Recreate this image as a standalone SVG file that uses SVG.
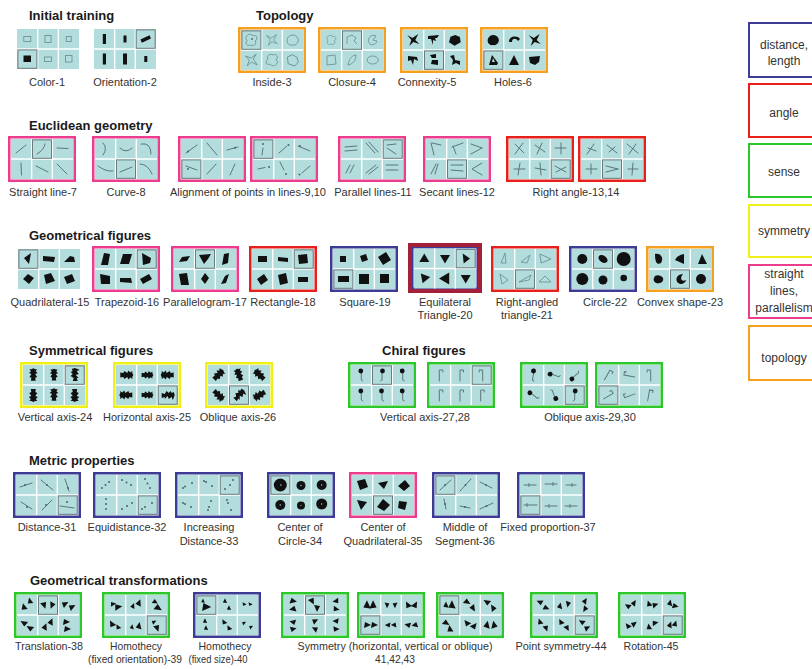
<svg xmlns="http://www.w3.org/2000/svg" width="812" height="669" viewBox="0 0 812 669">
<style>
text{font-family:"Liberation Sans",Arial,Helvetica,sans-serif}
.tt{font-size:13px;font-weight:bold;fill:#1a1a1a}
.lb{font-size:11px;fill:#333;text-anchor:middle}
.lg{font-size:12px;fill:#333;text-anchor:middle}
.fr{fill:#fff;stroke-width:2.5}
.lgb{fill:#fff;stroke-width:2}
.cb{stroke:#3c3c96}.cr{stroke:#e8201c}.cg{stroke:#2ac82a}.cy{stroke:#f0f018}.cp{stroke:#ec3c8e}.co{stroke:#f5a020}
.k{fill:#111}
.o{fill:none;stroke:#6a8e95;stroke-width:.85}
.l{fill:none;stroke:#5a777d;stroke-width:1;stroke-linecap:round}
.d{fill:#4a656b}
</style>
<defs>
<g id="grid"><rect x="3" y="3" width="62" height="40" fill="#b3dcdc"/><path d="M23.67 3V43M44.33 3V43M3 23H65" stroke="#fff" stroke-width="1.4"/></g>
<rect id="h" width="19" height="18.4" fill="none" stroke="#6e7b7d" stroke-width="1"/>
<path id="bA" d="M-5,-3 C-4,-7 1,-6 2,-4 C6,-6 7,-1 4,1 C6,4 2,7 -1,5 C-4,7 -7,3 -4,0 C-6,-1 -6,-2 -5,-3Z"/>
<path id="bB" d="M-6,-5 L-1,-2 L5,-6 L2,0 L6,4 L0,2 L-4,6 L-2,0 Z"/>
<path id="bC" d="M-5,-2 C-3,-6 3,-6 5,-2 C7,2 3,6 0,5 C-4,6 -7,2 -5,-2Z"/>
<path id="bD" d="M-6,-1 L-2,-5 L3,-4 L6,0 L4,5 L-3,5 Z"/>
<path id="tri" d="M0,-5 L5,3.5 L-5,3.5Z"/>
<path id="t" d="M0,-4 L3,3 L-3,2Z"/>
<path id="sv" d="M0,-7 L2,-6 L4,-6 L2.5,-4 L4.5,-2 L2,-1 L4,2 L2,3 L2.5,6 L-2.5,6 L-2,3 L-4,2 L-2,-1 L-4.5,-2 L-2.5,-4 L-4,-6 L-2,-6Z"/>
<path id="sn" d="M0,-7 L3,-6 L5,-5 L2,-4 L4,-1 L1,0 L4,3 L2,3 L3,6 L-2,6 L-1,3 L-4,1 L-2,-1 L-4,-3 L-2,-4 L-3,-6Z"/>
<g id="fl"><path d="M0,-3 V5 L1.5,6" class="l"/><circle cx="-0.5" cy="-4" r="2.4" class="k"/></g>
<path id="gm" d="M-1,6 V-5 H2.5 V-3" class="l"/>
</defs>

<rect width="812" height="669" fill="#fff"/>

<!-- titles -->
<text class="tt" x="29" y="20">Initial training</text>
<text class="tt" x="256" y="20">Topology</text>
<text class="tt" x="29" y="130">Euclidean geometry</text>
<text class="tt" x="29" y="240">Geometrical figures</text>
<text class="tt" x="29" y="355">Symmetrical figures</text>
<text class="tt" x="382" y="355">Chiral figures</text>
<text class="tt" x="29" y="465">Metric properties</text>
<text class="tt" x="30" y="585">Geometrical transformations</text>

<!-- Row 1 -->
<g id="n-color-1">
<g transform="translate(14,26)">
<use href="#grid"/>
<rect class="o" x="9.8" y="10.5" width="7" height="5"/>
<rect class="o" x="31" y="9.5" width="6" height="7"/>
<rect class="o" x="52.2" y="10.5" width="5" height="5"/>
<use href="#h" x="3.9" y="23.9"/>
<rect class="k" x="9.5" y="29.5" width="7.5" height="6.5"/>
<rect class="o" x="30.5" y="31" width="7" height="4.5"/>
<rect class="o" x="51.5" y="29.5" width="6.5" height="6.5"/>
</g>
<text class="lb" x="47" y="86">Color-1</text>
</g>

<g id="n-orientation-2">
<g transform="translate(91,26)">
<use href="#grid"/>
<rect class="k" x="11.8" y="8" width="3.2" height="10"/>
<rect class="k" x="32.5" y="9.5" width="3" height="7"/>
<use href="#h" x="45.2" y="3.9"/>
<rect class="k" x="-5" y="-1.7" width="10" height="3.4" transform="translate(54.7,13) rotate(-25)"/>
<rect class="k" x="11.8" y="27.5" width="3.2" height="11"/>
<rect class="k" x="32" y="27.5" width="4" height="11"/>
<rect class="k" x="53.3" y="30" width="3" height="6"/>
</g>
<text class="lb" x="125" y="86">Orientation-2</text>
</g>

<g id="n-inside-3">
<g transform="translate(238,27)">
<rect class="fr co" x="1.25" y="1.25" width="65.5" height="43.5"/>
<use href="#grid"/>
<use href="#h" x="3.9" y="3.9"/>
<use href="#bA" class="o" transform="translate(13.3,13)"/>
<circle cx="14" cy="12" r="0.9" class="d"/>
<use href="#bB" class="o" transform="translate(34,13) scale(.9)"/>
<use href="#bC" class="o" transform="translate(54.7,13)"/>
<use href="#bB" class="o" transform="translate(13.3,33) rotate(90)"/>
<use href="#bA" class="o" transform="translate(34,33) rotate(180)"/>
<use href="#bD" class="o" transform="translate(54.7,33) rotate(20)"/>
</g>
<text class="lb" x="272" y="86">Inside-3</text>
</g>

<g id="n-closure-4">
<g transform="translate(318,27)">
<rect class="fr co" x="1.25" y="1.25" width="65.5" height="43.5"/>
<use href="#grid"/>
<use href="#h" x="24.5" y="3.9"/>
<use href="#bA" class="o" transform="translate(13.3,13) scale(.8)"/>
<path class="o" d="M29,17 L29,10 L34,8 L38,11 L36,14 L39,17"/>
<path class="o" d="M58,9 C52,6 49,13 51,16 C53,19 58,18 59,14 L55,13 Z"/>
<path class="o" d="M9,29 L17,28 L18,37 L9,38Z"/>
<path class="o" d="M30,38 C31,31 35,28 38,28 C38,33 35,37 30,38Z"/>
<ellipse class="o" cx="54.7" cy="33" rx="5.5" ry="4"/>
</g>
<text class="lb" x="352" y="86">Closure-4</text>
</g>

<g id="n-connexity-5">
<g transform="translate(400,27)">
<rect class="fr co" x="1.25" y="1.25" width="65.5" height="43.5"/>
<use href="#grid"/>
<use href="#h" x="24.5" y="23.9"/>
<use href="#bB" class="k" transform="translate(13.3,13)"/>
<path class="k" d="M28,9 L39,8 L37,11 L35,11 L36,14 L33,13 L33,18 L31,12 L28,12Z"/>
<use href="#bD" class="k" transform="translate(54.7,13) rotate(-30)"/>
<path class="k" d="M8,29 L17,30 L18,34 L14,32 L13,38 L11,33 L8,34Z"/>
<path class="k" d="M30,28 L36,27 L36,31 L32,31Z M32,33 L38,33 L38,38 L31,37Z"/>
<path class="k" d="M50,29 L54,28 L55,33 L60,34 L60,38 L56,36 L52,38 L53,33Z"/>
</g>
<text class="lb" x="427" y="86">Connexity-5</text>
</g>

<g id="n-holes-6">
<g transform="translate(480,27)">
<rect class="fr co" x="1.25" y="1.25" width="65.5" height="43.5"/>
<use href="#grid"/>
<use href="#h" x="3.9" y="23.9"/>
<use href="#bC" class="k" transform="translate(13.3,13)"/>
<path class="k" d="M29,15 C29,9 37,8 40,12 L38,14 C36,11 32,11 32,15Z"/>
<use href="#bB" class="k" transform="translate(54.7,13)"/>
<path class="k" fill-rule="evenodd" d="M9,38 L12,28 L18,36 L17,38Z M12,35 L13,31 L15,35Z"/>
<path class="k" d="M29,38 L34,28 L39,38Z"/>
<path class="k" d="M49,30 L60,29 L59,35 L55,38 L50,36Z"/>
</g>
<text class="lb" x="513" y="86">Holes-6</text>
</g>

<!-- Row 2 -->
<g id="n-straight-line-7">
<g transform="translate(8,136)">
<rect class="fr cp" x="1.25" y="1.25" width="65.5" height="43.5"/>
<use href="#grid"/>
<use href="#h" x="24.5" y="3.9"/>
<path class="l" d="M8,17 L18,9 M29,18 Q36,14 37,8 M49,12 L60,12.5 M13,27 L13.5,39 M28,30 L40,36 M49,28 L59,38"/>
</g>
<text class="lb" x="43" y="196">Straight line-7</text>
</g>

<g id="n-curve-8">
<g transform="translate(92,136)">
<rect class="fr cp" x="1.25" y="1.25" width="65.5" height="43.5"/>
<use href="#grid"/>
<use href="#h" x="24.5" y="23.9"/>
<path class="l" d="M11,7 Q16,12 11,19 M28,12 Q34,18 40,12 M49,8 Q59,6 59,18 M6,30 Q14,36 21,35 M28,36 L40,31 M48,28 Q56,28 60,38"/>
</g>
<text class="lb" x="126" y="196">Curve-8</text>
</g>

<g id="n-alignment-9-10">
<g transform="translate(178,136)">
<rect class="fr cp" x="1.25" y="1.25" width="65.5" height="43.5"/>
<use href="#grid"/>
<use href="#h" x="3.9" y="23.9"/>
<path class="l" d="M8,17 L19,9 M29,7 L39,19 M49,14 L60,11 M8,30 L19,34 M29,38 L38,28 M52,39 L57,28"/>
<circle class="d" cx="10" cy="15.6" r="1"/><circle class="d" cx="10" cy="33" r="1"/><circle class="d" cx="57" cy="11.8" r="1"/>
</g>
<g transform="translate(250,136)">
<rect class="fr cp" x="1.25" y="1.25" width="65.5" height="43.5"/>
<use href="#grid"/>
<use href="#h" x="3.9" y="3.9"/>
<path class="l" d="M13,12 L12,19 M29,17 L37,10 M48,10 L60,15 M8,33 L15,31.5 M30,26 L34,34 M52,37 L60,30"/>
<circle class="d" cx="13" cy="8" r="1"/><circle class="d" cx="38.5" cy="9" r="1"/><circle class="d" cx="50" cy="10" r="1"/><circle class="d" cx="19" cy="31" r="1"/><circle class="d" cx="36" cy="38" r="1"/><circle class="d" cx="49.5" cy="38.5" r="1"/>
</g>
<text class="lb" x="248" y="196">Alignment of points in lines-9,10</text>
</g>

<g id="n-parallel-11">
<g transform="translate(338,136)">
<rect class="fr cp" x="1.25" y="1.25" width="65.5" height="43.5"/>
<use href="#grid"/>
<use href="#h" x="45.2" y="3.9"/>
<path class="l" d="M7,11 L19,10 M7,15 L19,14 M28,7 L37,17 M31,6 L40,16 M49,9 L58,8 M49,12 L58,18 M8,37 L12,29 M12,37 L16,29 M28,37 L38,29 M31,38 L40,31 M48,29 L60,29 M48,34 L60,34"/>
</g>
<text class="lb" x="373" y="196">Parallel lines-11</text>
</g>

<g id="n-secant-12">
<g transform="translate(423,136)">
<rect class="fr cp" x="1.25" y="1.25" width="65.5" height="43.5"/>
<use href="#grid"/>
<use href="#h" x="24.5" y="23.9"/>
<path class="l" d="M8,7 L11,19 M9,7 L18,9 M29,11 L40,7 M30,10 L33,18 M48,8 L59,12 M48,18 L59,12 M8,38 L13,28 M12,38 L15,28 M28,29 L40,29 M28,34 L40,35 M59,27 L49,33 L59,39"/>
</g>
<text class="lb" x="457" y="196">Secant lines-12</text>
</g>

<g id="n-right-angle-13-14">
<g transform="translate(506,136)">
<rect class="fr cr" x="1.25" y="1.25" width="65.5" height="43.5"/>
<use href="#grid"/>
<use href="#h" x="45.2" y="23.9"/>
<path class="l" d="M9,8 L18,17 M17,7 L9,18 M29,9 L39,16 M36,7 L31,18 M49,12 L60,12 M55,7 L55,18 M8,33 L19,33 M14,27 L12,39 M29,32 L40,34 M34,27 L35,39 M49,30 L60,36 M50,36 L60,31"/>
</g>
<g transform="translate(578,136)">
<rect class="fr cr" x="1.25" y="1.25" width="65.5" height="43.5"/>
<use href="#grid"/>
<use href="#h" x="24.5" y="23.9"/>
<path class="l" d="M9,18 L16,8 M10,12 L18,15 M29,9 L39,17 M31,16 L37,11 M49,8 L60,17 M58,8 L51,18 M8,33 L19,33 M13,28 L13,38 M28,30 L40,33 M28,36 L40,33 M55,27 L54,39 M50,33 L60,33"/>
</g>
<text class="lb" x="576" y="196">Right angle-13,14</text>
</g>

<!-- Row 3 -->
<g id="n-quadrilateral-15">
<g transform="translate(15,246)">
<use href="#grid"/>
<use href="#h" x="3.9" y="3.9"/>
<path class="k" d="M9,12 L16,7 L14,18 Z M28,10 L40,11 L39,16 L28,15 Z M49,16 L55,10 L59,11 L60,16 Z M8,33 L13,28 L19,32 L14,38 Z M29,29 L36,27 L40,35 L31,38 Z M49,31 L57,28 L60,35 L52,38 Z"/>
</g>
<text class="lb" x="50" y="306">Quadrilateral-15</text>
</g>

<g id="n-trapezoid-16">
<g transform="translate(92,246)">
<rect class="fr cp" x="1.25" y="1.25" width="65.5" height="43.5"/>
<use href="#grid"/>
<use href="#h" x="45.2" y="3.9"/>
<path class="k" d="M9,19 L12,7 L18,8 L16,19 Z M28,18 L31,8 L40,8 L37,18 Z M50,7 L59,12 L58,17 L51,19 Z M8,28 L18,30 L18,38 L9,38 Z M28,32 L39,32 L40,37 L28,36 Z M48,33 L57,28 L60,33 L51,38 Z"/>
</g>
<text class="lb" x="127" y="306">Trapezoid-16</text>
</g>

<g id="n-parallelogram-17">
<g transform="translate(171,246)">
<rect class="fr cp" x="1.25" y="1.25" width="65.5" height="43.5"/>
<use href="#grid"/>
<use href="#h" x="24.5" y="3.9"/>
<path class="k" d="M8,16 L11,11 L19,10 L16,15 Z M28,9 L40,8 L37,13 L33,18 Z M51,19 L53,8 L58,7 L57,17 Z M8,28 L16,27 L18,39 L10,39 Z M30,33 L34,27 L38,32 L34,38 Z M50,38 L54,30 L58,28 L55,37 Z"/>
</g>
<text class="lb" x="205" y="306">Parallelogram-17</text>
</g>

<g id="n-rectangle-18">
<g transform="translate(249,246)">
<rect class="fr cr" x="1.25" y="1.25" width="65.5" height="43.5"/>
<use href="#grid"/>
<use href="#h" x="45.2" y="3.9"/>
<path class="k" d="M9,10 L18,10 L18,16 L9,16Z M29,11 L39,12 L39,16 L29,15Z M49,9 L58,8 L59,17 L50,18Z M8,33 L15,28 L19,34 L12,39Z M29,29 L37,27 L39,37 L31,39Z M49,31 L59,31 L59,36 L49,36Z"/>
</g>
<text class="lb" x="283" y="306">Rectangle-18</text>
</g>

<g id="n-square-19">
<g transform="translate(330,246)">
<rect class="fr cb" x="1.25" y="1.25" width="65.5" height="43.5"/>
<use href="#grid"/>
<use href="#h" x="3.9" y="23.9"/>
<path class="k" d="M10,10 H16 V16 H10Z M30,10 L36,8 L38,14 L32,16Z M48,11 L56,6 L61,14 L53,19Z M8,30 H19 V36 H8Z M29,28 H39 V38 H29Z M50,28 H59 V37 H50Z"/>
</g>
<text class="lb" x="365" y="306">Square-19</text>
</g>

<g id="n-equilateral-20">
<g transform="translate(408,243)">
<rect x="2" y="2" width="70" height="46" fill="#fff" stroke="#a3203a" stroke-width="4"/>
<rect x="4.75" y="4.75" width="64.5" height="40.5" fill="none" stroke="#3a3a9a" stroke-width="1.5"/>
<g transform="translate(3,2.5)">
<use href="#grid"/>
<use href="#h" x="45.2" y="3.9"/>
<use href="#tri" class="k" transform="translate(13.3,13)"/>
<use href="#tri" class="k" transform="translate(34,13) rotate(180)"/>
<path class="k" d="M51.7,8 L59,13 L52.7,18Z"/>
<use href="#tri" class="k" transform="translate(13.3,33) rotate(200)"/>
<use href="#tri" class="k" transform="translate(34,33) rotate(-90) scale(1.2)"/>
<use href="#tri" class="k" transform="translate(54.7,33) rotate(180)"/>
</g>
</g>
<text class="lb" x="445" y="306">Equilateral</text>
<text class="lb" x="445" y="319">Triangle-20</text>
</g>

<g id="n-right-angled-21">
<g transform="translate(491,246)">
<rect class="fr cr" x="1.25" y="1.25" width="65.5" height="43.5"/>
<use href="#grid"/>
<use href="#h" x="24.5" y="23.9"/>
<path class="o" d="M10,17 L14,7 L15,17Z M30,16 L39,9 L36,17Z M49,8 L60,13 L50,17Z M9,28 L17,34 L11,38Z M28,36 L40,29 L38,34Z M48,36 L60,36 L54,30Z"/>
</g>
<text class="lb" x="527" y="306">Right-angled</text>
<text class="lb" x="527" y="319">triangle-21</text>
</g>

<g id="n-circle-22">
<g transform="translate(569,246)">
<rect class="fr cb" x="1.25" y="1.25" width="65.5" height="43.5"/>
<use href="#grid"/>
<use href="#h" x="24.5" y="3.9"/>
<circle class="k" cx="13.3" cy="13" r="5"/>
<ellipse class="k" cx="0" cy="0" rx="5" ry="3.3" transform="translate(34,13) rotate(35)"/>
<circle class="k" cx="54.7" cy="13" r="7"/>
<circle class="k" cx="13.3" cy="33" r="6"/>
<circle class="k" cx="34" cy="34" r="4.5"/>
<circle class="k" cx="54.7" cy="32" r="3.3"/>
</g>
<text class="lb" x="605" y="306">Circle-22</text>
</g>

<g id="n-convex-23">
<g transform="translate(646,246)">
<rect class="fr co" x="1.25" y="1.25" width="65.5" height="43.5"/>
<use href="#grid"/>
<use href="#h" x="24.5" y="23.9"/>
<path class="k" d="M9,8 C15,7 18,12 15,17 C12,19 9,18 9,8Z M38,8 L38,18 L29,14 C31,10 34,9 38,8Z M52,18 L56,8 L61,18Z M8,32 C9,28 15,29 17,32 C18,36 14,38 10,37 C8,36 7,34 8,32Z M37,28 C29,28 28,38 36,38 C39,37 40,35 40,34 C36,36 33,33 37,28Z"/>
<circle class="k" cx="55" cy="33" r="5"/>
</g>
<text class="lb" x="680" y="306">Convex shape-23</text>
</g>

<!-- Row 4 -->
<g id="n-vertical-axis-24">
<g transform="translate(20,362)">
<rect class="fr cy" x="1.25" y="1.25" width="65.5" height="43.5"/>
<use href="#grid"/>
<use href="#h" x="45.2" y="3.9"/>
<use href="#sv" class="k" transform="translate(13.3,13) scale(.95)"/>
<use href="#sv" class="k" transform="translate(34,13) scale(.9)"/>
<use href="#sn" class="k" transform="translate(54.7,13)"/>
<use href="#sv" class="k" transform="translate(13.3,33) rotate(180)"/>
<use href="#sv" class="k" transform="translate(34,33) scale(.95)"/>
<use href="#sv" class="k" transform="translate(54.7,33) rotate(180)"/>
</g>
<text class="lb" x="55" y="421">Vertical axis-24</text>
</g>

<g id="n-horizontal-axis-25">
<g transform="translate(113,362)">
<rect class="fr cy" x="1.25" y="1.25" width="65.5" height="43.5"/>
<use href="#grid"/>
<use href="#h" x="45.2" y="23.9"/>
<use href="#sv" class="k" transform="translate(13.3,13) rotate(90)"/>
<use href="#sv" class="k" transform="translate(34,13) rotate(90) scale(.9)"/>
<use href="#sv" class="k" transform="translate(54.7,13) rotate(-90)"/>
<use href="#sv" class="k" transform="translate(13.3,33) rotate(-90)"/>
<use href="#sv" class="k" transform="translate(34,33) rotate(90) scale(.9)"/>
<use href="#sn" class="k" transform="translate(54.7,33) rotate(90)"/>
</g>
<text class="lb" x="147" y="421">Horizontal axis-25</text>
</g>

<g id="n-oblique-axis-26">
<g transform="translate(205,362)">
<rect class="fr cy" x="1.25" y="1.25" width="65.5" height="43.5"/>
<use href="#grid"/>
<use href="#h" x="24.5" y="23.9"/>
<use href="#sv" class="k" transform="translate(13.3,13) rotate(45)"/>
<use href="#sv" class="k" transform="translate(34,13) rotate(-20) scale(.95)"/>
<use href="#sv" class="k" transform="translate(54.7,13) rotate(-45)"/>
<use href="#sv" class="k" transform="translate(13.3,33) rotate(135)"/>
<use href="#sn" class="k" transform="translate(34,33) rotate(45)"/>
<use href="#sv" class="k" transform="translate(54.7,33) rotate(-120)"/>
</g>
<text class="lb" x="238" y="421">Oblique axis-26</text>
</g>

<g id="n-chiral-vertical-27-28">
<g transform="translate(348,362)">
<rect class="fr cg" x="1.25" y="1.25" width="65.5" height="43.5"/>
<use href="#grid"/>
<use href="#h" x="24.5" y="3.9"/>
<use href="#fl" transform="translate(13.3,13)"/>
<use href="#fl" transform="translate(34,13) scale(-1,1)"/>
<use href="#fl" transform="translate(54.7,13)"/>
<use href="#fl" transform="translate(13.3,33)"/>
<use href="#fl" transform="translate(34,33)"/>
<use href="#fl" transform="translate(54.7,33)"/>
</g>
<g transform="translate(427,362)">
<rect class="fr cg" x="1.25" y="1.25" width="65.5" height="43.5"/>
<use href="#grid"/>
<use href="#h" x="45.2" y="3.9"/>
<use href="#gm" transform="translate(13.3,13)"/>
<use href="#gm" transform="translate(34,13)"/>
<use href="#gm" transform="translate(54.7,13) scale(-1,1)"/>
<use href="#gm" transform="translate(13.3,33)"/>
<use href="#gm" transform="translate(34,33)"/>
<use href="#gm" transform="translate(54.7,33)"/>
</g>
<text class="lb" x="425" y="421">Vertical axis-27,28</text>
</g>

<g id="n-chiral-oblique-29-30">
<g transform="translate(520,362)">
<rect class="fr cg" x="1.25" y="1.25" width="65.5" height="43.5"/>
<use href="#grid"/>
<use href="#h" x="45.2" y="23.9"/>
<use href="#fl" transform="translate(13.3,13) rotate(10)"/>
<use href="#fl" transform="translate(34,13) rotate(-70)"/>
<use href="#fl" transform="translate(54.7,14) rotate(-130)"/>
<use href="#fl" transform="translate(13.3,33) rotate(-50)"/>
<use href="#fl" transform="translate(34,33) rotate(160)"/>
<use href="#fl" transform="translate(54.7,33) scale(-1,1)"/>
</g>
<g transform="translate(595,362)">
<rect class="fr cg" x="1.25" y="1.25" width="65.5" height="43.5"/>
<use href="#grid"/>
<use href="#h" x="3.9" y="23.9"/>
<use href="#gm" transform="translate(13.3,13) rotate(30)"/>
<use href="#gm" transform="translate(34,13) rotate(-80)"/>
<use href="#gm" transform="translate(54.7,13) scale(-1,1)"/>
<use href="#gm" transform="translate(13.3,33) rotate(60) scale(-1,1)"/>
<use href="#gm" transform="translate(34,33) rotate(-110)"/>
<use href="#gm" transform="translate(54.7,33) rotate(10)"/>
</g>
<text class="lb" x="590" y="421">Oblique axis-29,30</text>
</g>

<!-- Row 5 -->
<g id="n-distance-31">
<g transform="translate(13,472)">
<rect class="fr cb" x="1.25" y="1.25" width="65.5" height="43.5"/>
<use href="#grid"/>
<use href="#h" x="45.2" y="23.9"/>
<path class="l" d="M7,15 L19,11 M28,8 L40,18 M52,7 L56,19 M8,30 L19,37 M29,38 L39,28 M47,34 L61,36"/>
<circle class="d" cx="12" cy="13" r="1"/><circle class="d" cx="34" cy="13" r="1"/><circle class="d" cx="55" cy="16" r="1"/><circle class="d" cx="14" cy="35" r="1"/><circle class="d" cx="33" cy="33" r="1"/><circle class="d" cx="54" cy="30" r="1"/>
</g>
<text class="lb" x="47" y="531">Distance-31</text>
</g>

<g id="n-equidistance-32">
<g transform="translate(93,472)">
<rect class="fr cb" x="1.25" y="1.25" width="65.5" height="43.5"/>
<use href="#grid"/>
<use href="#h" x="45.2" y="23.9"/>
<g class="d">
<circle cx="9" cy="16" r="1"/><circle cx="12.5" cy="13" r="1"/><circle cx="16" cy="10" r="1"/>
<circle cx="29" cy="8" r="1"/><circle cx="33.5" cy="10.5" r="1"/><circle cx="38" cy="13" r="1"/>
<circle cx="52" cy="7" r="1"/><circle cx="54.5" cy="11.5" r="1"/><circle cx="57" cy="16" r="1"/>
<circle cx="13" cy="27" r="1"/><circle cx="13" cy="32" r="1"/><circle cx="13" cy="37" r="1"/>
<circle cx="29" cy="37" r="1"/><circle cx="34" cy="34" r="1"/><circle cx="39" cy="31" r="1"/>
<circle cx="49" cy="37" r="1"/><circle cx="52" cy="35" r="1"/><circle cx="59" cy="31" r="1"/>
</g>
</g>
<text class="lb" x="127" y="531">Equidistance-32</text>
</g>

<g id="n-increasing-33">
<g transform="translate(175,472)">
<rect class="fr cb" x="1.25" y="1.25" width="65.5" height="43.5"/>
<use href="#grid"/>
<use href="#h" x="45.2" y="3.9"/>
<g class="d">
<circle cx="8" cy="16" r="1"/><circle cx="10" cy="14.5" r="1"/><circle cx="17" cy="11" r="1"/>
<circle cx="29" cy="9" r="1"/><circle cx="31" cy="10" r="1"/><circle cx="37" cy="14" r="1"/>
<circle cx="50" cy="17" r="1"/><circle cx="55" cy="13" r="1"/><circle cx="58" cy="8" r="1"/>
<circle cx="8" cy="31" r="1"/><circle cx="10" cy="32" r="1"/><circle cx="16" cy="35" r="1"/>
<circle cx="33" cy="38" r="1"/><circle cx="34" cy="35" r="1"/><circle cx="36" cy="29" r="1"/>
<circle cx="52" cy="28" r="1"/><circle cx="53" cy="31" r="1"/><circle cx="56" cy="38" r="1"/>
</g>
</g>
<text class="lb" x="209" y="531">Increasing</text>
<text class="lb" x="209" y="545">Distance-33</text>
</g>

<g id="n-center-circle-34">
<g transform="translate(267,472)">
<rect class="fr cb" x="1.25" y="1.25" width="65.5" height="43.5"/>
<use href="#grid"/>
<use href="#h" x="3.9" y="3.9"/>
<g class="k">
<circle cx="13.3" cy="13" r="6.5"/><circle cx="34" cy="13.5" r="4.5"/><circle cx="54.7" cy="13" r="5"/>
<circle cx="13.3" cy="33" r="5"/><circle cx="34" cy="33.5" r="4"/><circle cx="54.7" cy="32" r="5.5"/>
</g>
<g fill="#9cc">
<circle cx="13.8" cy="13" r=".8"/><circle cx="34" cy="13.5" r=".7"/><circle cx="54.7" cy="13" r=".7"/>
<circle cx="13.3" cy="33" r=".7"/><circle cx="34" cy="33.5" r=".6"/><circle cx="54.7" cy="32" r=".7"/>
</g>
</g>
<text class="lb" x="300" y="531">Center of</text>
<text class="lb" x="300" y="545">Circle-34</text>
</g>

<g id="n-center-quad-35">
<g transform="translate(349,472)">
<rect class="fr cp" x="1.25" y="1.25" width="65.5" height="43.5"/>
<use href="#grid"/>
<use href="#h" x="24.5" y="23.9"/>
<path class="k" d="M8,9 L16,7 L19,15 L11,18Z M29,11 L39,9 L35,17Z M49,14 L56,8 L61,14 L55,19Z M8,28 L18,30 L12,38Z M28,35 L34,27 L41,33 L35,39Z M50,29 L58,30 L56,38 L49,36Z"/>
</g>
<text class="lb" x="383" y="531">Center of</text>
<text class="lb" x="383" y="545">Quadrilateral-35</text>
</g>

<g id="n-middle-segment-36">
<g transform="translate(432,472)">
<rect class="fr cb" x="1.25" y="1.25" width="65.5" height="43.5"/>
<use href="#grid"/>
<use href="#h" x="3.9" y="3.9"/>
<path class="l" d="M8,18 L19,8 M28,19 L39,7 M48,10 L60,16 M12,27 L14,37 M28,34 L38,36 M48,37 L61,31"/>
<g class="d"><circle cx="13" cy="13" r="1"/><circle cx="33.5" cy="13" r="1"/><circle cx="54" cy="13" r="1"/><circle cx="13" cy="32" r="1"/><circle cx="33" cy="35" r="1"/><circle cx="54.5" cy="34" r="1"/></g>
</g>
<text class="lb" x="465" y="531">Middle of</text>
<text class="lb" x="465" y="545">Segment-36</text>
</g>

<g id="n-fixed-proportion-37">
<g transform="translate(517,472)">
<rect class="fr cb" x="1.25" y="1.25" width="65.5" height="43.5"/>
<use href="#grid"/>
<use href="#h" x="3.9" y="23.9"/>
<path class="l" d="M7,13 L19,13 M28,12 L40,12 M49,13 L59,13 M7,33 L20,33 M28,34 L40,34 M48,34 L60,34"/>
<path class="l" d="M12,11.5 V14.5 M36,10.5 V13.5 M55,11.5 V14.5 M10,31.5 V34.5 M32,32.5 V35.5 M53,32.5 V35.5"/>
</g>
<text class="lb" x="548" y="531">Fixed proportion-37</text>
</g>

<!-- Row 6 -->
<g id="n-translation-38">
<g transform="translate(14,592)">
<rect class="fr cg" x="1.25" y="1.25" width="65.5" height="43.5"/>
<use href="#grid"/>
<use href="#h" x="24.5" y="3.9"/>
<g class="k">
<use href="#t" transform="translate(10,15) rotate(-15)"/><use href="#t" transform="translate(16,9) rotate(-15) scale(.9)"/>
<use href="#t" transform="translate(30,13) rotate(160)"/><use href="#t" transform="translate(38,13) rotate(200)"/>
<use href="#t" transform="translate(51,12) rotate(60)"/><use href="#t" transform="translate(58,15) rotate(60)"/>
<use href="#t" transform="translate(10,31) rotate(-60)"/><use href="#t" transform="translate(16,36) rotate(-60)"/>
<use href="#t" transform="translate(31,35) rotate(20)"/><use href="#t" transform="translate(37,30) rotate(20)"/>
<use href="#t" transform="translate(52,30) rotate(90)"/><use href="#t" transform="translate(53,37) rotate(90)"/>
</g>
</g>
<text class="lb" x="49" y="650" textLength="68" lengthAdjust="spacingAndGlyphs">Translation-38</text>
</g>

<g id="n-homothecy-39">
<g transform="translate(102,592)">
<rect class="fr cg" x="1.25" y="1.25" width="65.5" height="43.5"/>
<use href="#grid"/>
<use href="#h" x="45.2" y="23.9"/>
<g class="k">
<use href="#t" transform="translate(11,12) rotate(80) scale(.8)"/><use href="#t" transform="translate(16,15) rotate(80) scale(1.1)"/>
<use href="#t" transform="translate(31,14) rotate(20) scale(.8)"/><use href="#t" transform="translate(37,11) rotate(20)"/>
<use href="#t" transform="translate(53,10) rotate(120) scale(.8)"/><use href="#t" transform="translate(56,16) rotate(120) scale(1.1)"/>
<use href="#t" transform="translate(10,32) rotate(-30)"/><use href="#t" transform="translate(16,35) rotate(-30) scale(.8)"/>
<use href="#t" transform="translate(30,35) rotate(10) scale(.7)"/><use href="#t" transform="translate(37,34) rotate(10)"/>
<use href="#t" transform="translate(52,30) rotate(60) scale(.7)"/><use href="#t" transform="translate(55,36) rotate(160)"/>
</g>
</g>
<text class="lb" x="136" y="650" textLength="52" lengthAdjust="spacingAndGlyphs">Homothecy</text>
<text class="lb" x="135" y="663" textLength="94" lengthAdjust="spacingAndGlyphs">(fixed orientation)-39</text>
</g>

<g id="n-homothecy-40">
<g transform="translate(193,592)">
<rect class="fr cb" x="1.25" y="1.25" width="65.5" height="43.5"/>
<use href="#grid"/>
<use href="#h" x="3.9" y="3.9"/>
<g class="k">
<use href="#t" transform="translate(10,9) scale(.6)"/><use href="#t" transform="translate(13,15) rotate(90) scale(1.3)"/>
<use href="#t" transform="translate(32,9) scale(.7)"/><use href="#t" transform="translate(36,16) scale(.7)"/>
<use href="#t" transform="translate(51,12) rotate(-40) scale(.6)"/><use href="#t" transform="translate(57,12) rotate(-40) scale(.6)"/>
<use href="#t" transform="translate(12,29) scale(.7)"/><use href="#t" transform="translate(13,36) scale(.7)"/>
<use href="#t" transform="translate(31,30) rotate(-30) scale(.8)"/><use href="#t" transform="translate(36,36) rotate(-30) scale(.8)"/>
<use href="#t" transform="translate(51,31) rotate(60) scale(.6)"/><use href="#t" transform="translate(58,35) rotate(60) scale(.6)"/>
</g>
</g>
<text class="lb" x="225" y="650" textLength="53" lengthAdjust="spacingAndGlyphs">Homothecy</text>
<text class="lb" x="218" y="663" textLength="59" lengthAdjust="spacingAndGlyphs">(fixed size)-40</text>
</g>

<g id="n-symmetry-41-42-43">
<g transform="translate(281,592)">
<rect class="fr cg" x="1.25" y="1.25" width="65.5" height="43.5"/>
<use href="#grid"/>
<use href="#h" x="24.5" y="3.9"/>
<g class="k">
<use href="#t" transform="translate(12,9) rotate(100)"/><use href="#t" transform="translate(12,17) rotate(80) scale(1,-1)"/>
<use href="#t" transform="translate(31,9) rotate(150)"/><use href="#t" transform="translate(36,16) rotate(180)"/>
<use href="#t" transform="translate(55,9) rotate(-100) scale(.9)"/><use href="#t" transform="translate(55,17) rotate(-80) scale(.9,-.9)"/>
<use href="#t" transform="translate(12,30) rotate(-80) scale(.9)"/><use href="#t" transform="translate(12,37) rotate(-100) scale(.9,-.9)"/>
<use href="#t" transform="translate(34,29) rotate(60) scale(.9)"/><use href="#t" transform="translate(34,37) rotate(120) scale(.9,-.9)"/>
<use href="#t" transform="translate(55,29) rotate(-90) scale(.9)"/><use href="#t" transform="translate(55,37) rotate(-90) scale(.9,-.9)"/>
</g>
</g>
<g transform="translate(357,592)">
<rect class="fr cg" x="1.25" y="1.25" width="65.5" height="43.5"/>
<use href="#grid"/>
<use href="#h" x="3.9" y="23.9"/>
<g class="k">
<use href="#t" transform="translate(10,13) scale(1.2)"/><use href="#t" transform="translate(16,13) scale(-1.2,1.2)"/>
<use href="#t" transform="translate(30,13) rotate(180) scale(.8)"/><use href="#t" transform="translate(38,13) rotate(180) scale(-.8,.8)"/>
<use href="#t" transform="translate(51,13) rotate(-30)"/><use href="#t" transform="translate(58,13) rotate(30) scale(-1,1)"/>
<use href="#t" transform="translate(10,33) rotate(90)"/><use href="#t" transform="translate(17,33) rotate(90)"/>
<use href="#t" transform="translate(31,33) rotate(-90) scale(.8)"/><use href="#t" transform="translate(37,33) rotate(90) scale(.8,-.8)"/>
<use href="#t" transform="translate(51,33) rotate(-80) scale(.9)"/><use href="#t" transform="translate(58,33) rotate(80) scale(.9,-.9)"/>
</g>
</g>
<g transform="translate(436,592)">
<rect class="fr cg" x="1.25" y="1.25" width="65.5" height="43.5"/>
<use href="#grid"/>
<use href="#h" x="3.9" y="3.9"/>
<g class="k">
<use href="#t" transform="translate(10,13) scale(.9)"/><use href="#t" transform="translate(16,13) scale(1.2)"/>
<use href="#t" transform="translate(31,10) rotate(120)"/><use href="#t" transform="translate(37,16) rotate(150) scale(-1,1)"/>
<use href="#t" transform="translate(51,10) rotate(-60)"/><use href="#t" transform="translate(57,16) rotate(-30) scale(-1,1)"/>
<use href="#t" transform="translate(10,31) rotate(120)"/><use href="#t" transform="translate(14,37) rotate(-10)"/>
<use href="#t" transform="translate(31,31) rotate(-40)"/><use href="#t" transform="translate(38,34) rotate(40) scale(-1,1)"/>
<use href="#t" transform="translate(51,33) rotate(10) scale(1.1)"/><use href="#t" transform="translate(58,33) rotate(-10) scale(-1.1,1.1)"/>
</g>
</g>
<text class="lb" x="395" y="650" textLength="195" lengthAdjust="spacingAndGlyphs">Symmetry (horizontal, vertical or oblique)</text>
<text class="lb" x="395" y="663" textLength="40" lengthAdjust="spacingAndGlyphs">41,42,43</text>
</g>

<g id="n-point-symmetry-44">
<g transform="translate(530,592)">
<rect class="fr cg" x="1.25" y="1.25" width="65.5" height="43.5"/>
<use href="#grid"/>
<use href="#h" x="45.2" y="23.9"/>
<g class="k">
<use href="#t" transform="translate(10,10) rotate(-70) scale(.9)"/><use href="#t" transform="translate(16,16) rotate(110) scale(.9)"/>
<use href="#t" transform="translate(30,14) rotate(10) scale(.9)"/><use href="#t" transform="translate(38,12) rotate(190) scale(.9)"/>
<use href="#t" transform="translate(55,9) rotate(30) scale(.9)"/><use href="#t" transform="translate(55,17) rotate(210) scale(.9)"/>
<use href="#t" transform="translate(10,30) rotate(-20) scale(.9)"/><use href="#t" transform="translate(16,36) rotate(160) scale(.9)"/>
<use href="#t" transform="translate(31,30) rotate(-30) scale(.9)"/><use href="#t" transform="translate(37,36) rotate(150) scale(.9)"/>
<use href="#t" transform="translate(52,30) rotate(-60) scale(.9)"/><use href="#t" transform="translate(57,36) rotate(60) scale(.9)"/>
</g>
</g>
<text class="lb" x="561" y="650" textLength="91" lengthAdjust="spacingAndGlyphs">Point symmetry-44</text>
</g>

<g id="n-rotation-45">
<g transform="translate(618,592)">
<rect class="fr cg" x="1.25" y="1.25" width="65.5" height="43.5"/>
<use href="#grid"/>
<use href="#h" x="45.2" y="23.9"/>
<g class="k">
<use href="#t" transform="translate(10,14) rotate(-60) scale(.9)"/><use href="#t" transform="translate(16,11) rotate(30) scale(.9)"/>
<use href="#t" transform="translate(31,12) rotate(-20) scale(.9)"/><use href="#t" transform="translate(37,13) rotate(70) scale(.9)"/>
<use href="#t" transform="translate(52,11) rotate(10) scale(.9)"/><use href="#t" transform="translate(57,14) rotate(100) scale(.9)"/>
<use href="#t" transform="translate(10,34) rotate(-40) scale(.9)"/><use href="#t" transform="translate(16,32) rotate(50) scale(.9)"/>
<use href="#t" transform="translate(31,35) rotate(-10) scale(.9)"/><use href="#t" transform="translate(37,31) rotate(80) scale(.9)"/>
<use href="#t" transform="translate(52,33) rotate(20) scale(.9)"/><use href="#t" transform="translate(57,32) rotate(20) scale(-.9,.9)"/>
</g>
</g>
<text class="lb" x="651" y="650" textLength="55" lengthAdjust="spacingAndGlyphs">Rotation-45</text>
</g>

<!-- Legend -->
<g id="legend-distance"><rect class="lgb cb" x="749" y="23" width="80" height="54"/><text class="lg" x="784" y="49">distance,</text><text class="lg" x="784" y="65">length</text></g>
<g id="legend-angle"><rect class="lgb cr" x="749" y="84" width="80" height="53"/><text class="lg" x="784" y="117">angle</text></g>
<g id="legend-sense"><rect class="lgb cg" x="749" y="144" width="80" height="53"/><text class="lg" x="784" y="176">sense</text></g>
<g id="legend-symmetry"><rect class="lgb cy" x="749" y="205" width="80" height="52"/><text class="lg" x="784" y="235">symmetry</text></g>
<g id="legend-straight"><rect class="lgb cp" x="749" y="265" width="80" height="53"/><text class="lg" x="784" y="278">straight</text><text class="lg" x="784" y="295">lines,</text><text class="lg" x="784" y="312">parallelism</text></g>
<g id="legend-topology"><rect class="lgb co" x="749" y="326" width="80" height="54"/><text class="lg" x="784" y="362">topology</text></g>
</svg>
